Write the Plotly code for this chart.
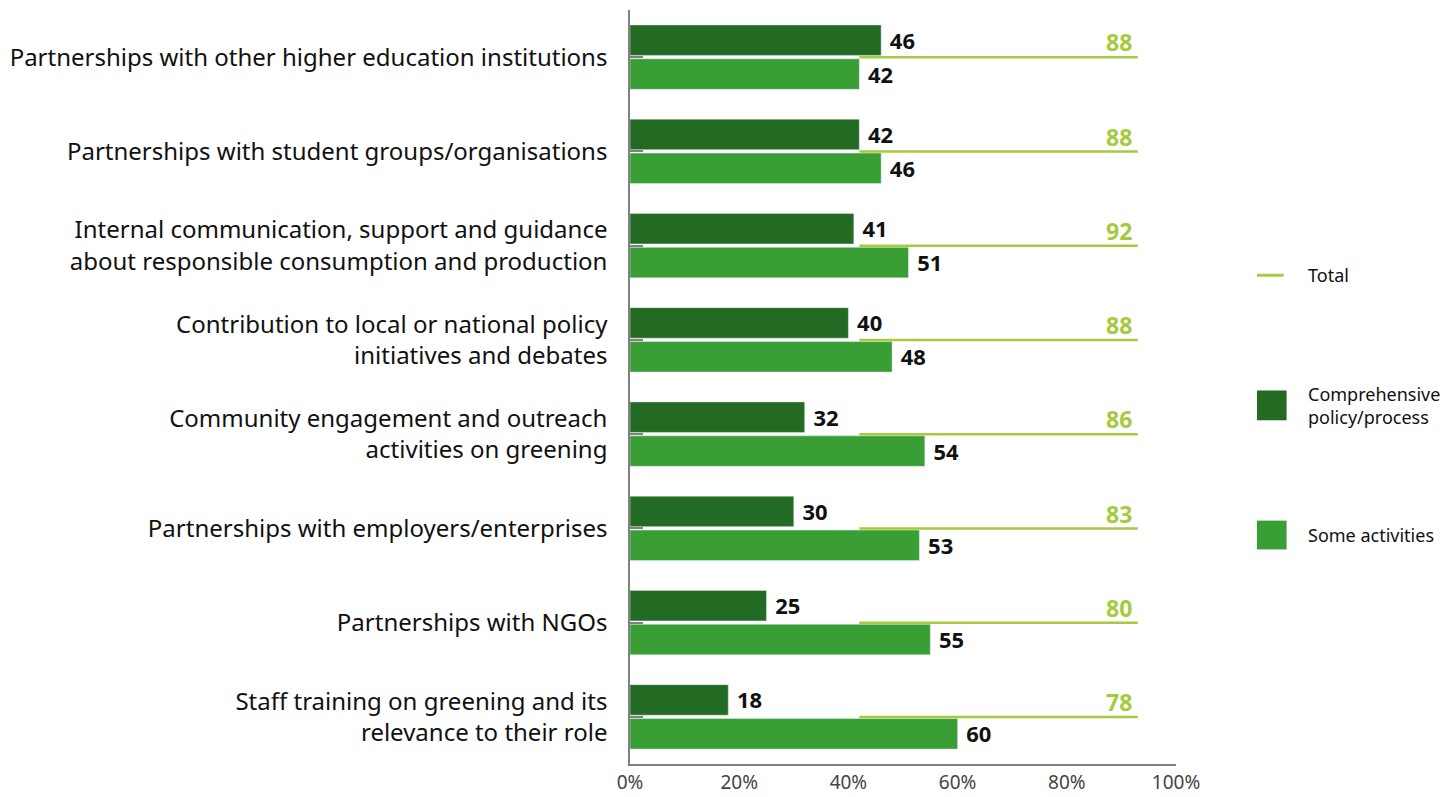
import plotly.graph_objects as go

categories = [
    "Partnerships with other higher education institutions",
    "Partnerships with student groups/organisations",
    "Internal communication, support and guidance<br>about responsible consumption and production",
    "Contribution to local or national policy<br>initiatives and debates",
    "Community engagement and outreach<br>activities on greening",
    "Partnerships with employers/enterprises",
    "Partnerships with NGOs",
    "Staff training on greening and its<br>relevance to their role",
]
comprehensive = [46, 42, 41, 40, 32, 30, 25, 18]
some_activities = [42, 46, 51, 48, 54, 53, 55, 60]
total = [88, 88, 92, 88, 86, 83, 80, 78]
tick_vals = [0, 20, 40, 60, 80, 100]
tick_text = ["0%", "20%", "40%", "60%", "80%", "100%"]
legend_names = ["Total", "Comprehensive<br>policy/process", "Some activities"]

DARK = "#236B23"
LIGHT = "#399E34"
TOTAL_C = "#A4CB3E"
FONT = "Noto Sans"
LINE_X0, LINE_X1 = 42, 93
LABEL_X = 92

fig = go.Figure()

lx, ly = [], []
for c in categories:
    lx += [LINE_X0, LINE_X1, None]
    ly += [c, c, None]
fig.add_trace(go.Scatter(
    x=lx, y=ly, mode="lines", name="Total",
    line=dict(color=TOTAL_C, width=2.5),
    showlegend=False, hoverinfo="skip",
))

fig.add_trace(go.Bar(
    y=categories, x=comprehensive, orientation="h",
    name="Comprehensive policy/process", marker_color=DARK,
    text=[str(v) for v in comprehensive], texttemplate=" %{text}", textposition="outside",
    textfont=dict(family=FONT, size=23, color="#111111", weight="bold"),
    cliponaxis=False, showlegend=False,
))
fig.add_trace(go.Bar(
    y=categories, x=some_activities, orientation="h",
    name="Some activities", marker_color=LIGHT,
    text=[str(v) for v in some_activities], texttemplate=" %{text}", textposition="outside",
    textfont=dict(family=FONT, size=23, color="#111111", weight="bold"),
    cliponaxis=False, showlegend=False,
))

fig.add_trace(go.Scatter(
    x=[LABEL_X] * len(categories), y=categories, mode="text",
    text=[str(v) for v in total], textposition="top left",
    textfont=dict(family=FONT, size=23, color=TOTAL_C, weight="bold"),
    showlegend=False, hoverinfo="skip", cliponaxis=False,
))

# manual legend (paper coords relative to plot area)
def px(x):
    return (x - 623) / 553
def py(y):
    return (769 - y) / 759

shapes = [
    dict(type="line", xref="paper", yref="paper", x0=px(1258), x1=px(1285), y0=py(277), y1=py(277),
         line=dict(color=TOTAL_C, width=3)),
    dict(type="rect", xref="paper", yref="paper", x0=px(1258), x1=px(1288), y0=py(423), y1=py(393),
         fillcolor=DARK, line=dict(width=0)),
    dict(type="rect", xref="paper", yref="paper", x0=px(1258), x1=px(1288), y0=py(553), y1=py(524),
         fillcolor=LIGHT, line=dict(width=0)),
]
annotations = []
for name, yy in zip(legend_names, [277, 408, 538]):
    annotations.append(dict(
        xref="paper", yref="paper", x=px(1308), y=py(yy), text=name, showarrow=False,
        xanchor="left", yanchor="middle", align="left",
        font=dict(family=FONT, size=18, color="#111111"),
    ))

fig.update_layout(
    width=1445, height=789,
    margin=dict(l=615, r=277, t=2, b=28),
    barmode="group", bargap=0.28, bargroupgap=0.1,
    plot_bgcolor="white", paper_bgcolor="white",
    font=dict(family=FONT, color="#111111"),
    showlegend=False,
    shapes=shapes, annotations=annotations,
    xaxis=dict(
        range=[0, 100], tickvals=tick_vals, ticktext=tick_text,
        showgrid=False, zeroline=False, showline=True,
        linecolor="#808080", linewidth=1.5,
        tickfont=dict(family=FONT, size=19, color="#444444"),
        ticks="",
    ),
    yaxis=dict(
        autorange="reversed", showgrid=False, showline=True,
        linecolor="#808080", linewidth=1.5,
        ticks="inside", ticklen=13, tickcolor="#808080", tickwidth=1.5,
        tickfont=dict(family=FONT, size=24, color="#111111"),
        ticklabelstandoff=16,
    ),
)

fig.write_html("out.html", config={"displayModeBar": False})
